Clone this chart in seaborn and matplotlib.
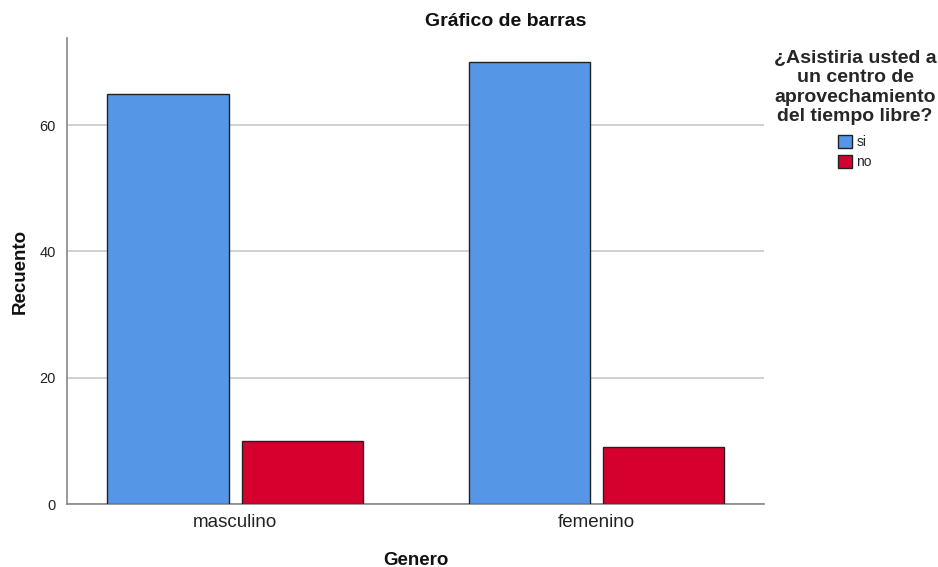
import matplotlib
matplotlib.use("Agg")
import matplotlib.pyplot as plt
import seaborn as sns
import pandas as pd

generos = ["masculino", "femenino"]
respuestas = ["si", "no"]
valores_si = [65, 70]
valores_no = [10, 9]

df = pd.DataFrame({
    "Genero": generos * 2,
    "Respuesta": ["si"] * 2 + ["no"] * 2,
    "Recuento": valores_si + valores_no,
})

sns.set_style("white")
plt.rcParams["font.family"] = ["Liberation Sans", "DejaVu Sans"]

fig = plt.figure(figsize=(9.38, 5.67), dpi=100)
ax = fig.add_axes([67/938, 1-504/567, (764-67)/938, (504-38)/567])

palette = {"si": "#5596E6", "no": "#D6002F"}
sns.barplot(data=df, x="Genero", y="Recuento", hue="Respuesta", order=generos,
            hue_order=respuestas, palette=palette, width=0.742, gap=0.097,
            edgecolor="#222222", linewidth=1.0, saturation=1, ax=ax, zorder=3)

ax.set_xlim(-0.465, 1.464)
ax.set_ylim(0, 73.8)
ax.set_yticks([0, 20, 40, 60])
ax.yaxis.grid(True, color="#C8C8C8", linewidth=1.2, zorder=0)
ax.set_axisbelow(True)
for s in ["top", "right"]:
    ax.spines[s].set_visible(False)
for s in ["left", "bottom"]:
    ax.spines[s].set_color("#888888")
    ax.spines[s].set_linewidth(1.2)
ax.tick_params(axis="y", length=0, labelsize=10.5, pad=8, colors="#222222")
ax.tick_params(axis="x", length=0, labelsize=13.5, pad=7, colors="#222222")

fig.text(506/938, 1-22/567, "Gráfico de barras", fontsize=14, fontweight="bold",
         ha="center", va="center", color="#111111")
ax.set_xlabel("Genero", fontsize=13.5, fontweight="bold", labelpad=15, color="#111111")
ax.set_ylabel("Recuento", fontsize=13.5, fontweight="bold", labelpad=8, color="#111111")

leg = ax.legend(title="¿Asistiria usted a\nun centro de\naprovechamiento\ndel tiempo libre?",
                loc="upper center", bbox_to_anchor=(855/938, 1-44/567),
                bbox_transform=fig.transFigure, frameon=False, fontsize=10,
                title_fontproperties={"weight": "bold", "size": 14},
                handlelength=1.0, handleheight=1.0, handletextpad=0.3,
                labelspacing=0.45, borderaxespad=0)
leg.get_title().set_multialignment("center")
leg.get_title().set_linespacing(1.2)
leg._legend_box.sep = 7

fig.savefig("out.png", dpi=100)
